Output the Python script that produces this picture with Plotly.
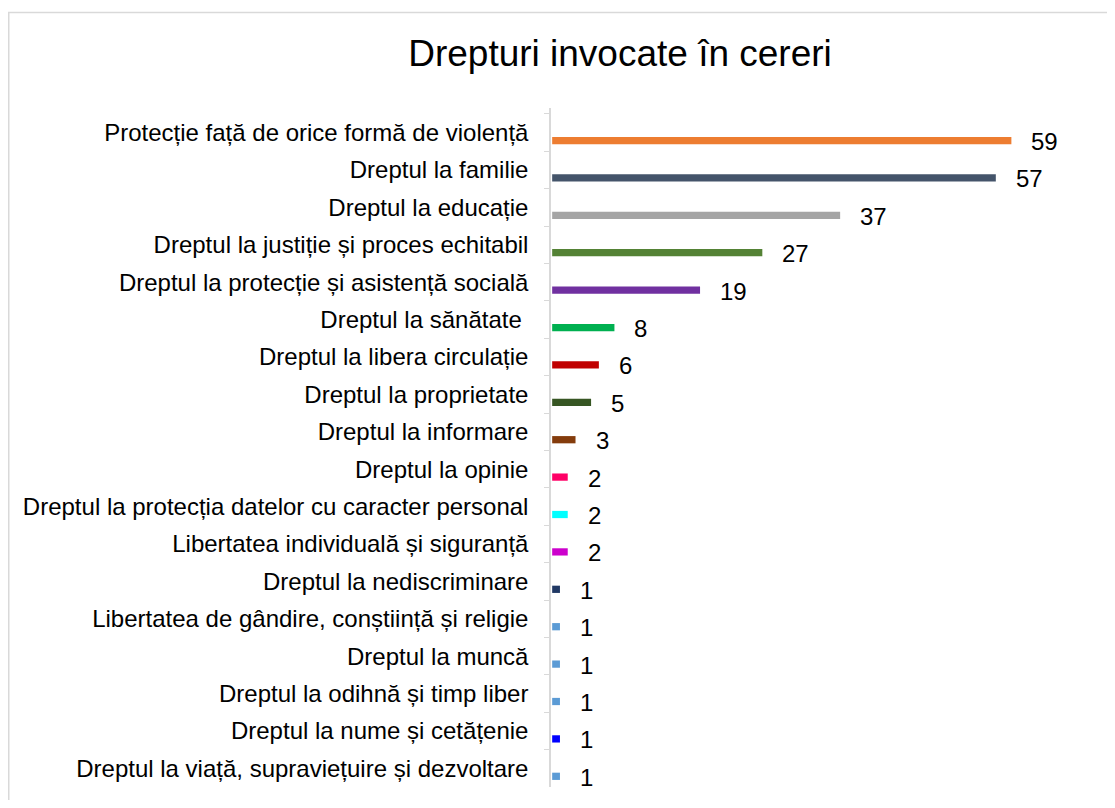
import plotly.graph_objects as go

categories = [
    "Protecție față de orice formă de violență",
    "Dreptul la familie",
    "Dreptul la educație",
    "Dreptul la justiție și proces echitabil",
    "Dreptul la protecție și asistență socială",
    "Dreptul la sănătate\u00a0",
    "Dreptul la libera circulație",
    "Dreptul la proprietate",
    "Dreptul la informare",
    "Dreptul la opinie",
    "Dreptul la protecția datelor cu caracter personal",
    "Libertatea individuală și siguranță",
    "Dreptul la nediscriminare",
    "Libertatea de gândire, conștiință și religie",
    "Dreptul la muncă",
    "Dreptul la odihnă și timp liber",
    "Dreptul la nume și cetățenie",
    "Dreptul la viață, supraviețuire și dezvoltare",
]
values = [59, 57, 37, 27, 19, 8, 6, 5, 3, 2, 2, 2, 1, 1, 1, 1, 1, 1]
colors = [
    "#ED7D31", "#44546A", "#A5A5A5", "#548235", "#7030A0", "#00B050",
    "#C00000", "#375623", "#843C0C", "#FF0066", "#00FFFF", "#CC00CC",
    "#203864", "#5B9BD5", "#5B9BD5", "#5B9BD5", "#0000FF", "#5B9BD5",
]

# page body has an 8px margin; figure is sized/positioned to compensate
W, H = 1099, 792
ML, MR, MT, MB = 543, 10, 100, 13
FONT = "Liberation Sans, Arial, sans-serif"

fig = go.Figure()
fig.add_trace(go.Bar(
    x=values, y=categories, orientation="h",
    marker=dict(color=colors, line=dict(width=0)),
    width=0.194, offset=0.117,
    hoverinfo="x+y",
))

for c, v in zip(categories, values):
    fig.add_annotation(
        x=v, y=c, text=str(v), showarrow=False,
        xanchor="left", yanchor="middle", xshift=18, yshift=-9,
        font=dict(family=FONT, size=24, color="#000000"),
    )

pw = W - ML - MR
ph = H - MT - MB
fig.add_shape(
    type="rect", xref="paper", yref="paper",
    x0=(0.75 - ML) / pw, x1=(W + 30 - ML) / pw,
    y0=-(30 + MB) / ph, y1=(H - 4.5 - MB) / ph,
    line=dict(color="#D9D9D9", width=1.5), fillcolor="rgba(0,0,0,0)",
    layer="below",
)

fig.update_layout(
    width=W, height=H,
    margin=dict(l=ML, r=MR, t=MT, b=MB),
    paper_bgcolor="white", plot_bgcolor="white",
    showlegend=False,
    title=dict(text="Drepturi invocate în cereri", x=612 / W, xanchor="center",
               y=1 - 45 / H, yanchor="middle",
               font=dict(family=FONT, size=37, color="#000000")),
    font=dict(family=FONT, color="#000000"),
    xaxis=dict(range=[-0.15, 70], visible=False, fixedrange=True),
    yaxis=dict(
        autorange="reversed", type="category",
        tickson="boundaries", ticks="outside", ticklen=5,
        tickcolor="#D9D9D9", showline=True, linecolor="#D9D9D9", linewidth=1.5,
        showgrid=False, ticklabelstandoff=16,
        tickfont=dict(family=FONT, size=24, color="#000000"),
    ),
)

fig.write_html("out.html")
